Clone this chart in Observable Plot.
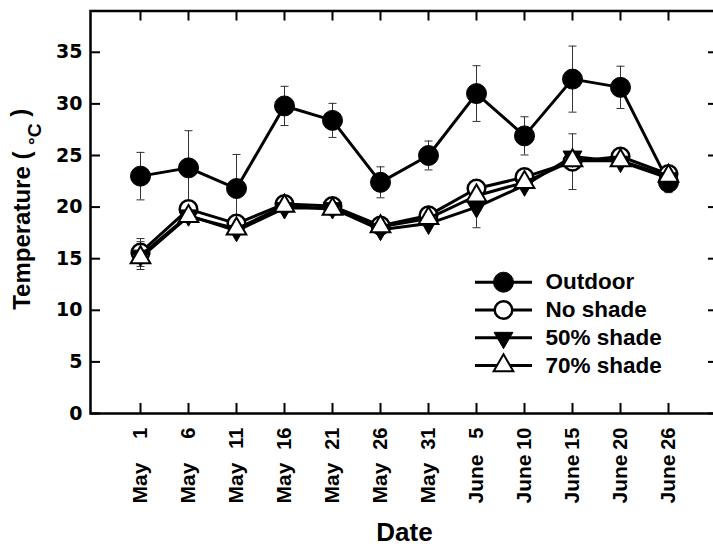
<!DOCTYPE html>
<html><head><meta charset="utf-8">
<script src="https://cdn.jsdelivr.net/npm/d3@7"></script>
<script src="https://cdn.jsdelivr.net/npm/@observablehq/plot@0.6"></script>
<style>body{margin:0;overflow:hidden;background:#fff}</style>
</head><body><div id="chart"></div>
<script>
// ---- data ----
const dates = ["May 1","May 6","May 11","May 16","May 21","May 26","May 31","June 5","June 10","June 15","June 20","June 26"];
const tickMonths = ["May","May","May","May","May","May","May","June","June","June","June","June"];
const tickDays = ["1","6","11","16","21","26","31","5","10","15","20","26"];
const yTicks = [0,5,10,15,20,25,30,35];
const seriesNames = ["Outdoor","No shade","50% shade","70% shade"];
const outdoor    = [23.0, 23.8, 21.8, 29.8, 28.4, 22.4, 25.0, 31.0, 26.9, 32.4, 31.6, 22.4];
const outdoorErr = [2.3, 3.6, 3.3, 1.9, 1.65, 1.5, 1.4, 2.7, 1.85, 3.2, 2.05, 1.0];
const noShade    = [15.6, 19.8, 18.4, 20.3, 20.1, 18.2, 19.2, 21.8, 22.9, 24.4, 24.9, 23.2];
const noShadeErr = [1.35, 0, 0, 0, 0, 0, 0, 0, 0, 2.7, 0, 0];
const shade50    = [15.3, 19.2, 17.7, 19.9, 19.9, 17.8, 18.4, 20.0, 22.1, 24.9, 24.4, 22.8];
const shade50Err = [1.35, 0, 0, 0, 0, 0, 0, 2.0, 0, 0, 0, 0];
const shade70    = [15.1, 19.1, 17.9, 20.1, 19.8, 18.1, 18.9, 21.1, 22.4, 24.5, 24.5, 23.0];
const shade70Err = [0, 0, 0, 0, 0, 0, 0, 0, 0, 0, 0, 0];
const xTitle = "Date";
const yTitleMain = "Temperature ( ", yTitleUnit = "°C", yTitleEnd = " )";

// ---- layout ----
const W = 713, H = 551, mL = 90, mR = -5, mT = 10.5, mB = 138;
const fw = W - mL - mR, fh = H - mT - mB;
const font = "'Liberation Sans', Arial, Helvetica, sans-serif";
const numFont = "'DejaVu Sans', 'Liberation Sans', Arial, sans-serif";

const s3 = Math.sqrt(3);
const triDown = {draw(c, size) { const y = -Math.sqrt(size / (3 * s3)); c.moveTo(0, -2 * y); c.lineTo(-s3 * y, y); c.lineTo(s3 * y, y); c.closePath(); }};
const hline = (len) => ({draw(c) { c.moveTo(-len / 2, 0); c.lineTo(len / 2, 0); }});

const styles = [
  {symbol: "circle", fill: "black", stroke: "black", r: 10, sw: 1},
  {symbol: "circle", fill: "white", stroke: "black", r: 8.8, sw: 2.5},
  {symbol: triDown, fill: "black", stroke: "black", r: 7, sw: 1},
  {symbol: "triangle", fill: "white", stroke: "black", r: 7.3, sw: 2}
];
const values = [outdoor, noShade, shade50, shade70];
const errors = [outdoorErr, noShadeErr, shade50Err, shade70Err];

const rows = [];
seriesNames.forEach((name, si) => values[si].forEach((v, i) => rows.push({name, si, date: dates[i], v, e: errors[si][i]})));
const errRows = rows.filter(d => d.e > 0);

const marks = [
  Plot.frame({stroke: "black", strokeWidth: 2.5}),
  Plot.tickX(dates, {x: d => d, insetTop: fh - 10, stroke: "black", strokeWidth: 2}),
  Plot.tickX(dates, {x: d => d, insetBottom: fh - 10, stroke: "black", strokeWidth: 2}),
  Plot.tickY(yTicks, {y: d => d, insetRight: fw - 10, stroke: "black", strokeWidth: 2}),
  Plot.tickY(yTicks, {y: d => d, insetLeft: fw - 10, stroke: "black", strokeWidth: 2}),
  Plot.ruleX(errRows, {x: "date", y1: d => d.v - d.e, y2: d => d.v + d.e, stroke: "#333", strokeWidth: 1}),
  Plot.dot(errRows, {x: "date", y: d => d.v + d.e, symbol: hline(8), stroke: "#333", strokeWidth: 1}),
  Plot.dot(errRows, {x: "date", y: d => d.v - d.e, symbol: hline(8), stroke: "#333", strokeWidth: 1})
];
seriesNames.forEach((name, si) => {
  const st = styles[si];
  const data = rows.filter(d => d.si === si);
  marks.push(Plot.line(data, {x: "date", y: "v", stroke: "black", strokeWidth: 3}));
  marks.push(Plot.dot(data, {x: "date", y: "v", symbol: st.symbol, fill: st.fill, stroke: st.stroke, strokeWidth: st.sw, r: st.r}));
});
// tick labels
marks.push(Plot.text(yTicks, {y: d => d, text: d => String(d), frameAnchor: "left", dx: -8, textAnchor: "end", lineAnchor: "middle", fontSize: 19, fontWeight: "bold", fontFamily: numFont}));
marks.push(Plot.text(dates, {x: d => d, text: (d, i) => tickDays[i], frameAnchor: "bottom", dy: 14, rotate: -90, textAnchor: "end", lineAnchor: "middle", fontSize: 20, fontWeight: "bold", fontFamily: font}));
marks.push(Plot.text(dates, {x: d => d, text: (d, i) => tickMonths[i], frameAnchor: "bottom", dy: 90, rotate: -90, textAnchor: "start", lineAnchor: "middle", fontSize: 21, fontWeight: "bold", fontFamily: font}));
// titles
marks.push(Plot.text([xTitle], {frameAnchor: "bottom", dy: 119, text: d => d, textAnchor: "middle", lineAnchor: "middle", fontSize: 26, fontWeight: "bold", fontFamily: font}));
marks.push(Plot.text([yTitleMain + yTitleUnit + yTitleEnd], {frameAnchor: "left", dx: -68, dy: -3, rotate: -90, text: d => d, textAnchor: "middle", lineAnchor: "middle", fontSize: 24, fontWeight: "bold", fontFamily: font}));
// legend
seriesNames.forEach((name, si) => {
  const st = styles[si];
  const dy = 271.2 + 27.8 * si;
  marks.push(Plot.dot([name], {frameAnchor: "top-left", dx: 413, dy, symbol: hline(57), stroke: "black", strokeWidth: 3}));
  marks.push(Plot.dot([name], {frameAnchor: "top-left", dx: 413, dy, symbol: st.symbol, fill: st.fill, stroke: st.stroke, strokeWidth: st.sw, r: st.r}));
  marks.push(Plot.text([name], {frameAnchor: "top-left", dx: 455, dy, text: d => d, textAnchor: "start", lineAnchor: "middle", fontSize: 22.5, fontWeight: "bold", fontFamily: font}));
});

const chart = Plot.plot({
  width: W, height: H,
  marginLeft: mL, marginRight: mR, marginTop: mT, marginBottom: mB,
  style: {fontFamily: font, background: "white", color: "black", overflow: "visible"},
  x: {type: "point", domain: dates, padding: 1, axis: null},
  y: {domain: [0, 39], axis: null},
  marks
});
document.getElementById("chart").appendChild(chart);

// subscript-style unit in the y title
d3.select(chart).selectAll("text").filter(function() { return this.textContent === yTitleMain + yTitleUnit + yTitleEnd; })
  .each(function() {
    const t = d3.select(this);
    t.text(null).attr("xml:space", "preserve").style("white-space", "pre");
    t.append("tspan").text(yTitleMain);
    t.append("tspan").attr("dy", "0.55em").attr("font-size", "0.8em").text(yTitleUnit);
    t.append("tspan").attr("dy", "-0.55em").text(yTitleEnd);
  });
</script>
</body></html>
